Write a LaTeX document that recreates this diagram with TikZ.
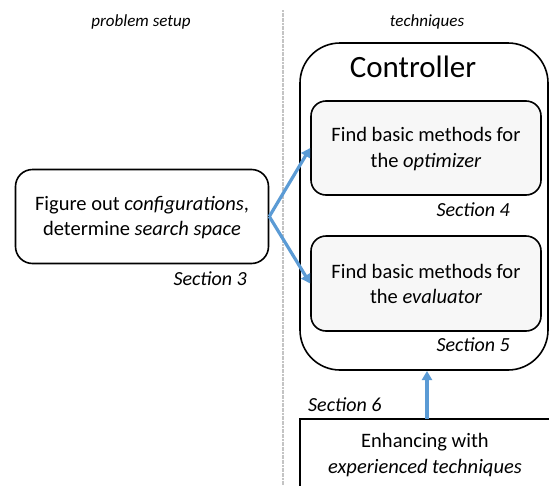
\documentclass[tikz,border=0pt]{standalone}
\usepackage{fontspec}
\setmainfont{Carlito}
\usetikzlibrary{arrows.meta}
\definecolor{arrowblue}{HTML}{5B9BD5}
\definecolor{innerfill}{HTML}{F7F7F7}
\definecolor{sepgray}{HTML}{C4C4C4}
\begin{document}
\begin{tikzpicture}[x=1pt,y=-1pt,
  txt/.style={font=\fontsize{20.5}{25.8}\selectfont, align=center, inner sep=0pt},
  head/.style={font=\fontsize{17}{20}\selectfont\itshape, inner sep=0pt},
  sect/.style={font=\fontsize{20}{24}\selectfont\itshape, inner sep=0pt},
  rbox/.style={draw=black, line width=1.6pt, rounded corners=17pt, fill=white},
  ibox/.style={draw=black, line width=1.6pt, rounded corners=15pt, fill=innerfill},
  arr/.style={draw=arrowblue, line width=3.2pt, -{Triangle[length=9pt,width=10pt]}}]
\useasboundingbox (0,0) rectangle (549,485);
\clip (0,0) rectangle (549,485);
\fill[white] (0,0) rectangle (549,485);
% separator
\draw[sepgray, line width=1.6pt, dash pattern=on 2pt off 0.6pt] (283,10) -- (283,490);
% headers
\node[head] (h1) at (141,22) {problem setup};
\node[head] (h2) at (427,22) {techniques};
% left box
\node[rbox, minimum width=253pt, minimum height=94pt] (setup) at (142,216.5) {};
\node[txt] (setuptxt) at (142,217.5) {Figure out \textit{configurations},\\determine \textit{search space}};
\node[sect, anchor=east] (s3) at (247,279) {Section 3};
% controller
\node[draw=black, line width=1.6pt, rounded corners=40pt, fill=white, minimum width=248pt, minimum height=327pt] (ctrl) at (424,206.5) {};
\node[font=\fontsize{31}{36}\selectfont, inner sep=0pt] (ctrltitle) at (413,67) {Controller};
% inner boxes
\node[ibox, minimum width=230pt, minimum height=94pt] (opt) at (426,148) {};
\node[txt] (opttxt) at (426,149) {Find basic methods for\\the \textit{optimizer}};
\node[sect, anchor=east] (s4) at (510,210) {Section 4};
\node[ibox, minimum width=230pt, minimum height=95pt] (eval) at (426,283.5) {};
\node[txt] (evaltxt) at (426,284) {Find basic methods for\\the \textit{evaluator}};
\node[sect, anchor=east] (s5) at (510,345) {Section 5};
% bottom box
\node[draw=black, line width=1.6pt, fill=white, minimum width=260pt, minimum height=80pt] (enhbox) at (430,459) {};
\node[txt] (enh) at (425,455) {Enhancing with\\\textit{experienced techniques}};
\node[sect, anchor=west] (s6) at (308,405) {Section 6};
% arrows
\coordinate (up0) at (427,418.5);
\coordinate (up1) at (427,371);
\draw[arr] (setup.east) -- (opt.west);
\draw[arr] (setup.east) -- (eval.west);
\draw[arr] (up0) -- (up1);
\end{tikzpicture}
\end{document}
